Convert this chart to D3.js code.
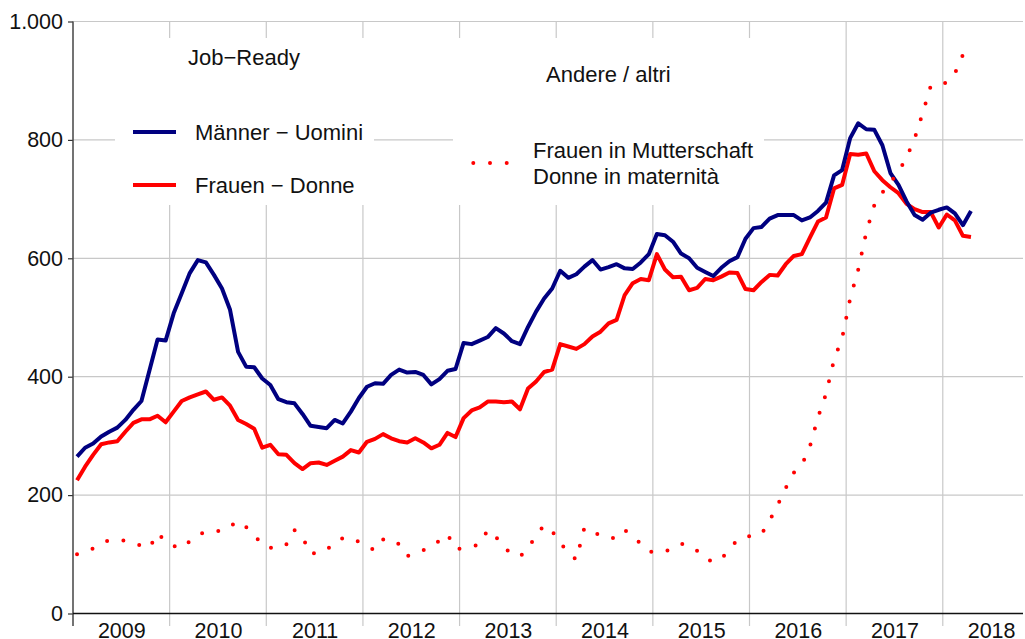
<!DOCTYPE html>
<html>
<head>
<meta charset="utf-8">
<script src="https://cdn.jsdelivr.net/npm/d3@7"></script>
<style>
body { margin: 0; background: #fff; }
text { font-family: "Liberation Sans", Arial, sans-serif; }
</style>
</head>
<body>
<svg id="chart" width="1025" height="639"></svg>
<script>

// monthly values, Jan 2009 .. Apr 2018
var years = [2009, 2010, 2011, 2012, 2013, 2014, 2015, 2016, 2017, 2018];
var yTicks = [0, 200, 400, 600, 800, 1000];

var maenner = [
    265,280,287,299,307,314,327,344,359,411,463,461,
    507,541,575,597,593,572,549,513,442,417,416,397,
    386,362,357,355,337,317,315,313,327,321,341,364,
    383,389,388,403,412,407,408,403,387,396,410,413,
    457,455,461,467,482,473,460,455,484,510,532,549,
    579,567,573,586,597,581,585,590,583,582,593,607,
    641,639,628,608,600,584,577,570,584,595,602,633,
    651,653,667,673,673,673,664,669,680,694,740,749,
    803,828,818,817,791,744,724,696,673,665,677,682,
    686,676,656,680];

var frauen = [
    225,248,268,286,289,291,307,322,328,328,334,323,
    341,359,365,370,375,361,365,351,327,320,312,280,
    285,269,268,254,244,254,255,251,258,265,276,272,
    290,295,303,296,291,289,296,289,279,285,305,298,
    330,343,348,358,358,357,358,345,380,392,408,412,
    455,451,447,455,468,476,490,496,538,558,565,563,
    607,581,568,569,546,550,565,563,569,576,575,548,
    546,560,572,571,590,604,607,635,662,669,718,724,
    776,775,777,747,732,720,710,692,683,678,678,652,
    674,664,638,636];

var mutterschaft = [
    100,104,110,118,124,124,123,118,115,111,136,122,
    114,110,122,133,138,140,139,147,156,146,133,116,
    111,110,117,141,129,100,104,107,122,127,128,121,
    113,107,125,126,117,97,102,107,113,123,134,109,
    110,113,117,141,130,111,101,96,110,132,149,139,
    120,102,91,145,138,132,127,128,141,130,118,105,
    103,105,110,118,115,106,93,87,92,109,124,130,
    131,134,157,183,212,238,251,282,331,371,429,465,
    532,581,644,690,711,728,746,770,802,845,891,893,
    897,912,944,958];

var svg = d3.select("#chart");

var xScale = d3.scaleLinear().domain([2009, 2018.83]).range([73, 1023]);
var yScale = d3.scaleLinear().domain([0, 1000]).range([613.5, 21.5]);

var deFormat = d3.formatLocale({decimal: ",", thousands: ".", grouping: [3], currency: ["", " €"]}).format(",d");

function monthX(d, i) { return xScale(2009 + (i + 0.5) / 12); }

//grid
svg.append("g").attr("class", "yGrid")
    .selectAll("line")
    .data(yTicks.filter(d => d > 0))
    .enter().append("line")
    .attr("x1", 73).attr("x2", 1023)
    .attr("y1", d => yScale(d)).attr("y2", d => yScale(d))
    .attr("stroke", "#c8c8c8")
    .attr("stroke-width", 1.2);

svg.append("g").attr("class", "xGrid")
    .selectAll("line")
    .data(years.slice(1))
    .enter().append("line")
    .attr("x1", d => xScale(d)).attr("x2", d => xScale(d))
    .attr("y1", yScale(1000)).attr("y2", 626)
    .attr("stroke", "#c8c8c8")
    .attr("stroke-width", 1.2);

// legend backgrounds hide the grid
svg.append("rect").attr("x", 115).attr("y", 38).attr("width", 259).attr("height", 167).attr("fill", "#fff");
svg.append("rect").attr("x", 453).attr("y", 38).attr("width", 311).attr("height", 167).attr("fill", "#fff");

//axes
svg.append("g")
    .attr("class", "yAxis")
    .attr("transform", "translate(73,0)")
    .call(d3.axisLeft(yScale).tickValues(yTicks).tickSize(5).tickPadding(5).tickFormat(deFormat));

d3.select(".yAxis path").remove();
d3.selectAll(".yAxis .tick line").attr("stroke", "#333").attr("stroke-width", 1.2);
d3.selectAll(".yAxis .tick text")
    .attr("font-size", 21.5)
    .attr("font-family", "Liberation Sans, Arial, sans-serif")
    .attr("fill", "#111");

svg.append("line")
    .attr("x1", 73).attr("x2", 73)
    .attr("y1", yScale(1000)).attr("y2", 626)
    .attr("stroke", "#444")
    .attr("stroke-width", 1.5);

svg.append("line")
    .attr("x1", 73).attr("x2", 1023)
    .attr("y1", yScale(0)).attr("y2", yScale(0))
    .attr("stroke", "#111")
    .attr("stroke-width", 1.5);

svg.append("g")
    .attr("class", "xAxis")
    .attr("transform", "translate(0," + yScale(0) + ")")
    .call(d3.axisBottom(xScale).tickValues(years.map(d => d + 0.5)).tickSize(0).tickPadding(9).tickFormat(d => Math.floor(d)));

d3.select(".xAxis path").remove();
d3.selectAll(".xAxis .tick text")
    .attr("font-size", 21.5)
    .attr("font-family", "Liberation Sans, Arial, sans-serif")
    .attr("fill", "#111");

//data lines
var line = d3.line()
    .x(monthX)
    .y(d => yScale(d));

svg.append("path")
    .attr("class", "frauen")
    .attr("fill", "none")
    .attr("stroke", "#ff0000")
    .attr("stroke-width", 4)
    .attr("stroke-linejoin", "round")
    .attr("d", line(frauen));

svg.append("path")
    .attr("class", "maenner")
    .attr("fill", "none")
    .attr("stroke", "#000080")
    .attr("stroke-width", 4)
    .attr("stroke-linejoin", "round")
    .attr("d", line(maenner));

svg.append("path")
    .attr("class", "mutterschaft")
    .attr("fill", "none")
    .attr("stroke", "#ff0000")
    .attr("stroke-width", 4)
    .attr("stroke-linecap", "round")
    .attr("stroke-dasharray", "0,16.5")
    .attr("d", line(mutterschaft));

//legend
var legend = svg.append("g").attr("class", "legend")
    .attr("font-size", 22)
    .attr("fill", "#111");

legend.append("text").attr("x", 188).attr("y", 65).text("Job\u2212Ready");
legend.append("text").attr("x", 546).attr("y", 82).text("Andere / altri");

legend.append("line")
    .attr("x1", 133).attr("x2", 176).attr("y1", 132).attr("y2", 132)
    .attr("stroke", "#000080").attr("stroke-width", 4);
legend.append("text").attr("x", 195).attr("y", 140).text("M\u00e4nner \u2212 Uomini");

legend.append("line")
    .attr("x1", 133).attr("x2", 176).attr("y1", 185).attr("y2", 185)
    .attr("stroke", "#ff0000").attr("stroke-width", 4);
legend.append("text").attr("x", 195).attr("y", 193).text("Frauen \u2212 Donne");

legend.append("line")
    .attr("x1", 473.3).attr("x2", 507).attr("y1", 163).attr("y2", 163)
    .attr("stroke", "#ff0000").attr("stroke-width", 4)
    .attr("stroke-linecap", "round")
    .attr("stroke-dasharray", "0,16.7");
legend.append("text").attr("x", 533).attr("y", 158).text("Frauen in Mutterschaft");
legend.append("text").attr("x", 533).attr("y", 184).text("Donne in maternit\u00e0");

</script>
</body>
</html>
